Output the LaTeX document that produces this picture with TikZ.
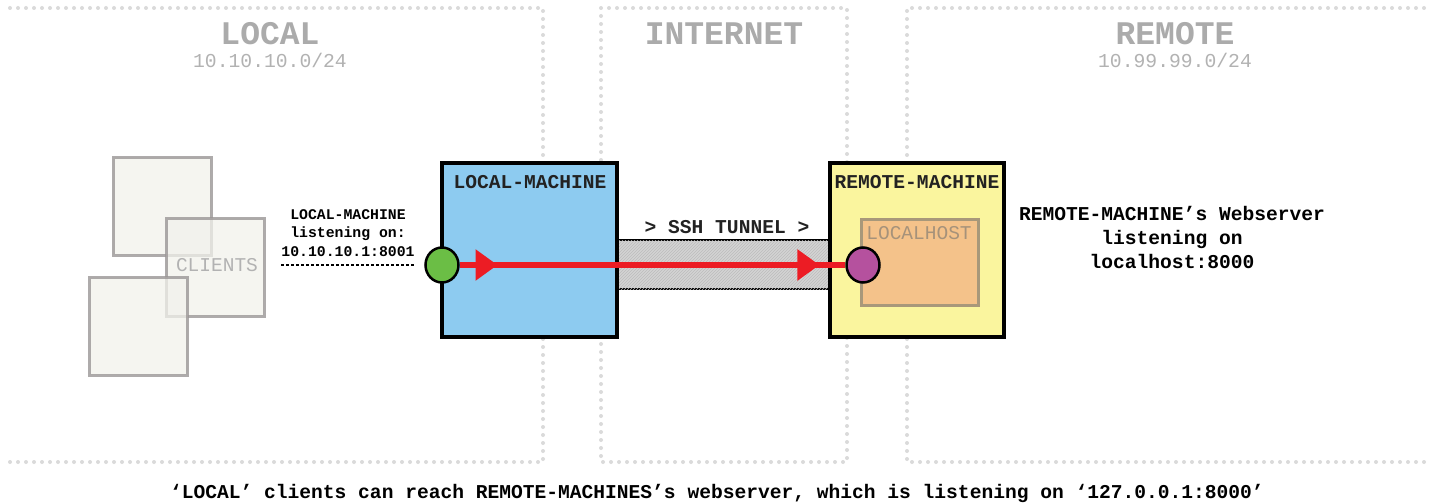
\documentclass[tikz,border=0pt]{standalone}
\usepackage{fontspec}
\setmainfont{Liberation Mono}
\usetikzlibrary{arrows.meta,patterns,decorations.markings,shapes.geometric}
\definecolor{zonegray}{HTML}{DADADA}
\definecolor{headgray}{HTML}{ABABAB}
\definecolor{subgray}{HTML}{B2B2B2}
\definecolor{lblue}{HTML}{8DCBF0}
\definecolor{lyellow}{HTML}{FAF59E}
\definecolor{lorange}{HTML}{F4C28A}
\definecolor{lhborder}{HTML}{A8987A}
\definecolor{lhtext}{HTML}{A6927A}
\definecolor{pgreen}{HTML}{6BBE45}
\definecolor{ppurple}{HTML}{B5519E}
\definecolor{tred}{HTML}{EC1C24}
\definecolor{tunnelgray}{HTML}{D3D3D3}
\definecolor{hatchgray}{HTML}{BDBDBD}
\definecolor{clientfill}{HTML}{F2F2EC}
\definecolor{clientdraw}{HTML}{9A9696}
\definecolor{darktext}{HTML}{222222}
\tikzset{
  zoneline/.style={draw=zonegray, line width=4pt, line cap=round, dash pattern=on 0pt off 8pt},
  heading/.style={font=\fontsize{33}{36}\selectfont\bfseries, text=headgray, inner sep=0pt},
  subhead/.style={font=\fontsize{19.7}{22}\selectfont, text=subgray, inner sep=0pt},
  machine/.style={draw=black, line width=3.5pt, inner sep=0pt},
  boxlabel/.style={font=\fontsize{19.6}{22}\selectfont\bfseries, text=darktext, inner sep=0pt},
  clientbox/.style={draw=clientdraw, draw opacity=0.8, fill=clientfill, fill opacity=0.75, line width=3pt, minimum width=98, minimum height=98, inner sep=0pt},
  port/.style={ellipse, draw=black, line width=2.5pt, minimum width=33, minimum height=35, inner sep=0pt},
  note/.style={font=\fontsize{19.6}{24}\selectfont\bfseries, text=black, inner sep=0pt, align=center},
  smallnote/.style={font=\fontsize{14.8}{18.5}\selectfont\bfseries, text=black, inner sep=0pt, align=center},
}
\begin{document}
\begin{tikzpicture}[x=1pt,y=-1pt]
\useasboundingbox (0,0) rectangle (1433,503);
\fill[white] (0,0) rectangle (1433,503);

% zones
\draw[zoneline] (10,8) -- (543,8) -- (543,462) -- (10,462);
\draw[zoneline] (601,8) -- (847,8) -- (847,462) -- (601,462) -- cycle;
\draw[zoneline] (1424,8) -- (907,8) -- (907,462) -- (1424,462);

% headings
\node[heading] (hlocal) at (270,34) {LOCAL};
\node[subhead] (slocal) at (270,60) {10.10.10.0/24};
\node[heading] (hinet) at (724,34) {INTERNET};
\node[heading] (hremote) at (1175,34) {REMOTE};
\node[subhead] (sremote) at (1175,60) {10.99.99.0/24};

% clients
\node[clientbox] (c1) at (162,206) {};
\node[clientbox] (c2) at (215,267) {};
\node[clientbox] (c3) at (138.5,326) {};
\node[font=\fontsize{19.5}{22}\selectfont, text=subgray, inner sep=0pt] (clients) at (217,265) {CLIENTS};

% listening label
\node[smallnote] (listen) at (348,233) {LOCAL-MACHINE\\listening on:\\10.10.10.1:8001};

% tunnel
\node[draw=black, line width=2.5pt, fill=tunnelgray, postaction={pattern=north east lines, pattern color=hatchgray}, minimum width=213, minimum height=49, inner sep=0pt] (tunnel) at (723.5,264.5) {};
\node[boxlabel] (tlabel) at (727,227) {> SSH TUNNEL >};

% machines
\node[machine, fill=lblue, minimum width=175, minimum height=174] (lm) at (529.5,250) {};
\node[boxlabel] (lmlabel) at (530,182) {LOCAL-MACHINE};
\node[machine, fill=lyellow, minimum width=174, minimum height=174] (rm) at (917,250) {};
\node[boxlabel] (rmlabel) at (917,182) {REMOTE-MACHINE};
\node[draw=lhborder, line width=3pt, fill=lorange, minimum width=117, minimum height=86, inner sep=0pt] (lh) at (919.5,262) {};
\node[font=\fontsize{19.5}{22}\selectfont, text=lhtext, inner sep=0pt] (lhlabel) at (919,233) {LOCALHOST};

% ports
\node[port, fill=pgreen] (g) at (442,265) {};
\node[port, fill=ppurple] (p) at (863,265) {};

% dotted line
\coordinate (dstart) at (281,265);
\draw[line width=2.5pt, dash pattern=on 2.5pt off 2.5pt] (dstart) -- ([xshift=-9pt]g.west);

% red tunnel line
\draw[draw=tred, line width=6pt,
  postaction={decorate, decoration={markings,
    mark=at position 0.098 with {\arrow{Triangle[length=22pt,width=30pt]}},
    mark=at position 0.933 with {\arrow{Triangle[length=22pt,width=30pt]}}}}]
  (g.east) -- (p.west);

% webserver note
\node[note] (ws) at (1172,237) {REMOTE-MACHINE’s Webserver\\listening on\\localhost:8000};

% caption
\node[font=\fontsize{19.6}{22}\selectfont\bfseries, text=black, inner sep=0pt] (caption) at (717,493) {‘LOCAL’ clients can reach REMOTE-MACHINES’s webserver, which is listening on ‘127.0.0.1:8000’};
\end{tikzpicture}
\end{document}
